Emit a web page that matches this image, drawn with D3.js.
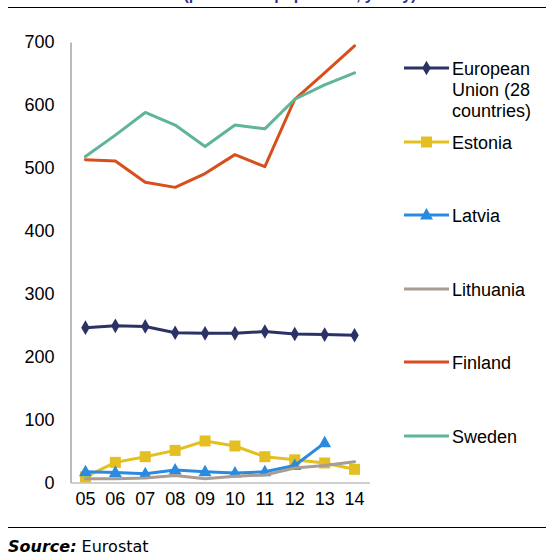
<!DOCTYPE html>
<html>
<head>
<meta charset="utf-8">
<script src="https://cdn.jsdelivr.net/npm/d3@7"></script>
<style>
  html, body { margin: 0; padding: 0; background: #fff; }
  svg { display: block; }
</style>
</head>
<body>
<svg id="chart" width="546" height="555"></svg>
<script>
// ---- data ----
const years = ["05", "06", "07", "08", "09", "10", "11", "12", "13", "14"];
const yTicks = [0, 100, 200, 300, 400, 500, 600, 700];
const seriesNames = ["European Union (28 countries)", "Estonia", "Latvia", "Lithuania", "Finland", "Sweden"];
const euValues        = [246, 249, 248, 238, 237, 237, 240, 236, 235, 234];
const estoniaValues   = [9, 32, 41, 51, 66, 58, 41, 36, 31, 21];
const latviaValues    = [17, 16, 14, 20, 17, 15, 17, 27, 63, null];
const lithuaniaValues = [6, 6, 7, 11, 6, 10, 12, 23, 27, 33];
const finlandValues   = [513, 511, 477, 469, 491, 521, 502, 609, 651, 694];
const swedenValues    = [518, 552, 588, 568, 534, 568, 562, 609, 632, 651];

const series = [
  { name: seriesNames[0], values: euValues,        color: "#2b3266", marker: "diamond", legendLines: ["European", "Union (28", "countries)"] },
  { name: seriesNames[1], values: estoniaValues,   color: "#e4bf22", marker: "square",  legendLines: ["Estonia"] },
  { name: seriesNames[2], values: latviaValues,    color: "#2a8ae0", marker: "triangle", legendLines: ["Latvia"] },
  { name: seriesNames[3], values: lithuaniaValues, color: "#a89c94", marker: null,      legendLines: ["Lithuania"] },
  { name: seriesNames[4], values: finlandValues,   color: "#d64f1c", marker: null,      legendLines: ["Finland"] },
  { name: seriesNames[5], values: swedenValues,    color: "#5fb598", marker: null,      legendLines: ["Sweden"] }
];

// ---- layout ----
const svg = d3.select("#chart");
const font = "'Liberation Sans', Arial, sans-serif";
const plot = { left: 70.5, right: 369.5, top: 42, bottom: 482.5 };

const x = d3.scaleBand().domain(years).range([plot.left, plot.right]);
const y = d3.scaleLinear().domain([0, 700]).range([plot.bottom, plot.top]);
const cx = d => x(d) + x.bandwidth() / 2;

// title (cut off at top edge, only descenders visible as in the reference)
svg.append("text")
  .attr("x", 300).attr("y", -0.5)
  .attr("text-anchor", "middle")
  .attr("font-family", font).attr("font-weight", "bold").attr("font-size", 16)
  .attr("fill", "#2e3192")
  .text("(per million population, yearly)");

// top rule
svg.append("line").attr("x1", 8).attr("x2", 546).attr("y1", 7.5).attr("y2", 7.5)
  .attr("stroke", "#000").attr("stroke-width", 1.2);

// y axis
const yAxis = d3.axisLeft(y).tickValues(yTicks).tickSize(0).tickPadding(16);
const gy = svg.append("g").attr("transform", `translate(${plot.left},0)`).call(yAxis);
gy.select(".domain").attr("stroke", "#8c8c8c").attr("stroke-width", 1.2);
gy.selectAll("text").attr("font-family", font).attr("font-size", 18).attr("fill", "#000");

// x axis
const xAxis = d3.axisBottom(x).tickSize(0).tickPadding(10);
const gx = svg.append("g").attr("transform", `translate(0,${plot.bottom})`).call(xAxis);
gx.select(".domain").attr("stroke", "#bfbfbf").attr("stroke-width", 1.5);
gx.selectAll("text").attr("font-family", font).attr("font-size", 18).attr("fill", "#000");

// markers
function drawMarker(g, type, color, px, py) {
  if (type === "diamond") {
    g.append("path").attr("d", d3.symbol(d3.symbolDiamond, 62)())
      .attr("transform", `translate(${px},${py})`).attr("fill", color);
  } else if (type === "square") {
    g.append("rect").attr("x", px - 5.5).attr("y", py - 5.5).attr("width", 11).attr("height", 11)
      .attr("fill", color);
  } else if (type === "triangle") {
    g.append("path").attr("d", `M${px},${py - 7} L${px + 6.5},${py + 4.5} L${px - 6.5},${py + 4.5} Z`)
      .attr("fill", color);
  }
}

const line = d3.line()
  .defined(d => d.v !== null)
  .x(d => cx(d.year))
  .y(d => y(d.v));

series.forEach(s => {
  const pts = years.map((yr, k) => ({ year: yr, v: s.values[k] }));
  const g = svg.append("g");
  g.append("path").datum(pts).attr("d", line)
    .attr("fill", "none").attr("stroke", s.color).attr("stroke-width", 3)
    .attr("stroke-linejoin", "round").attr("stroke-linecap", "round");
  if (s.marker) {
    pts.filter(p => p.v !== null).forEach(p => drawMarker(g, s.marker, s.color, cx(p.year), y(p.v)));
  }
});

// legend
const legendY = [68, 142, 215, 289, 362, 436];
series.forEach((s, i) => {
  const g = svg.append("g");
  const ly = legendY[i];
  g.append("line").attr("x1", 404).attr("x2", 449).attr("y1", ly).attr("y2", ly)
    .attr("stroke", s.color).attr("stroke-width", 3);
  if (s.marker) drawMarker(g, s.marker, s.color, 426.5, ly);
  s.legendLines.forEach((t, j) => {
    g.append("text").attr("x", 452).attr("y", ly + 6.5 + j * 21)
      .attr("font-family", font).attr("font-size", 18).attr("fill", "#000").text(t);
  });
});

// bottom rule & source
svg.append("line").attr("x1", 8).attr("x2", 546).attr("y1", 527.5).attr("y2", 527.5)
  .attr("stroke", "#000").attr("stroke-width", 1.2);
const src = svg.append("text").attr("x", 8).attr("y", 552)
  .attr("font-family", "'DejaVu Sans', sans-serif").attr("font-size", 16).attr("fill", "#000");
src.append("tspan").attr("font-weight", "bold").attr("font-style", "italic").text("Source:");
src.append("tspan").text(" Eurostat");
</script>
</body>
</html>
